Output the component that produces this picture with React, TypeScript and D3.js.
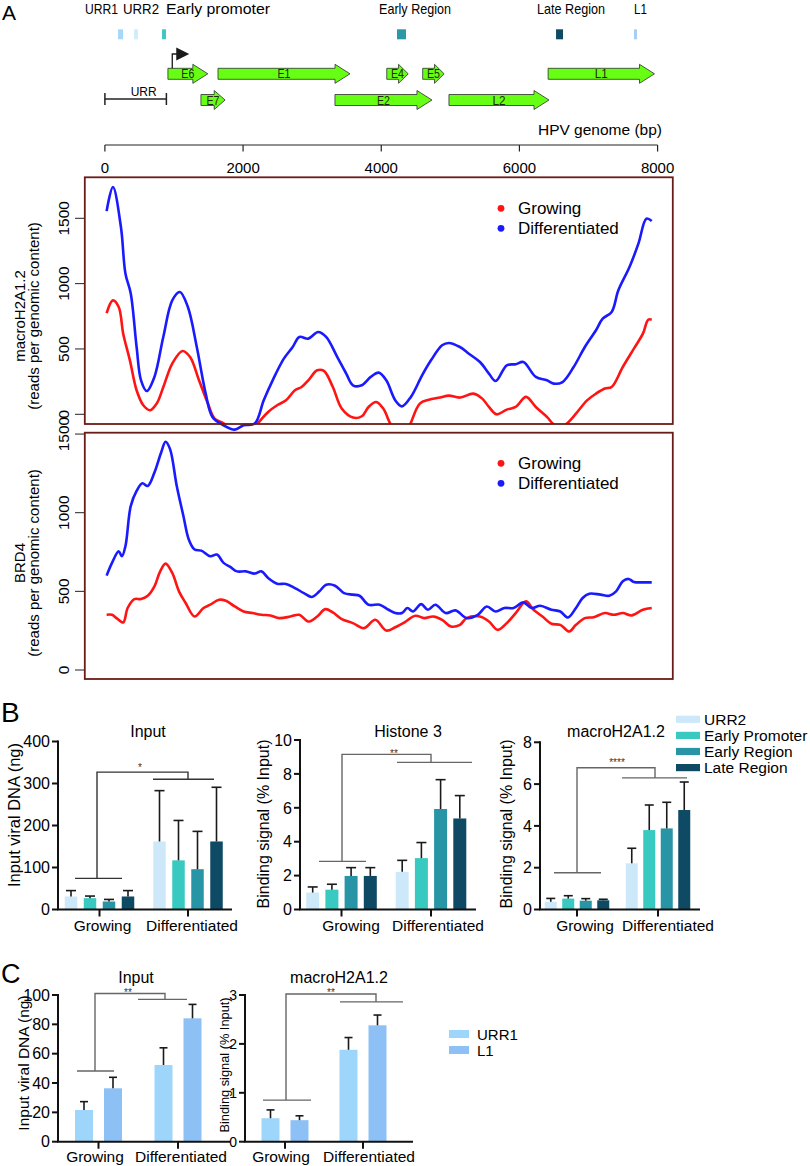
import React from "react";
import { scaleLinear, scaleBand, line, curveCatmullRom } from "d3";

const FONT = "'Liberation Sans', Arial, Helvetica, sans-serif";

// ---------- Panel A: genome map ----------
const geneNames = ["E6", "E1", "E4", "E5", "L1", "E7", "E2", "L2"];
const geneStart = [912, 1637, 4080, 4600, 6415, 1390, 3330, 4980];
const geneEnd = [1490, 3548, 4390, 4910, 7955, 1740, 4734, 6428];
const geneRow = [0, 0, 0, 0, 0, 1, 1, 1];

const regionNames = ["URR1", "URR2", "Early promoter", "Early Region", "Late Region", "L1"];
const regionStart = [190, 421, 827, 4228, 6530, 7658];
const regionEnd = [262, 479, 884, 4358, 6631, 7701];
const regionColors = ["#a6d9f9", "#d3ecf9", "#3cc8be", "#2a98a6", "#0f4a62", "#a4cdf7"];

const urrRange = [0, 890];
const promoterBp = 975;
const genomeTicks = [0, 2000, 4000, 6000, 8000];

// ---------- Panel A: coverage tracks ----------
const macroDiffBp = [25, 116, 232, 297, 374, 459, 523, 607, 717, 845, 975, 1085, 1201, 1330, 1459, 1556, 1718, 1879, 2008, 2169, 2299, 2428, 2590, 2718, 2815, 2944, 3086, 3202, 3364, 3493, 3590, 3719, 3848, 3964, 4073, 4203, 4300, 4429, 4591, 4720, 4881, 4978, 5139, 5268, 5429, 5559, 5656, 5817, 5946, 6057, 6237, 6398, 6495, 6624, 6785, 6947, 7108, 7205, 7335, 7432, 7593, 7722, 7838, 7915];
const macroDiff = [1555, 1739, 1433, 1078, 925, 515, 260, 178, 286, 592, 872, 936, 821, 515, 158, -20, -84, -117, -84, -71, 107, 260, 426, 515, 592, 579, 630, 592, 438, 311, 222, 222, 286, 319, 260, 107, 61, 133, 298, 413, 528, 546, 515, 464, 400, 311, 255, 375, 383, 400, 286, 260, 235, 247, 362, 515, 643, 732, 783, 949, 1127, 1306, 1497, 1479];

const macroGrowBp = [25, 116, 200, 265, 362, 459, 556, 653, 750, 846, 975, 1123, 1233, 1362, 1491, 1588, 1718, 1900, 2100, 2202, 2363, 2493, 2621, 2750, 2847, 2944, 3073, 3170, 3299, 3428, 3590, 3719, 3816, 3926, 4029, 4139, 4300, 4416, 4558, 4688, 4849, 4978, 5139, 5333, 5462, 5559, 5669, 5817, 5946, 6095, 6237, 6398, 6495, 6600, 6688, 6818, 6979, 7108, 7237, 7335, 7496, 7657, 7787, 7864, 7915];
const macroGrow = [775, 872, 821, 617, 413, 184, 69, 31, 82, 209, 388, 484, 438, 260, 82, -33, -70, -150, -150, -77, 18, 69, 107, 184, 209, 260, 337, 332, 209, 44, -25, -15, 56, 94, 44, -80, -200, -80, 82, 112, 128, 143, 128, 158, 120, 56, 0, 36, 56, 133, 56, -20, -77, -100, -71, 5, 107, 158, 197, 209, 362, 503, 617, 724, 724];

const brdDiffBp = [25, 103, 200, 246, 297, 374, 459, 542, 620, 717, 814, 878, 943, 1040, 1137, 1214, 1298, 1395, 1524, 1621, 1718, 1815, 1912, 2040, 2169, 2266, 2363, 2493, 2621, 2750, 2880, 2996, 3105, 3202, 3332, 3461, 3590, 3686, 3816, 3977, 4106, 4203, 4300, 4378, 4461, 4577, 4674, 4784, 4933, 5075, 5236, 5397, 5527, 5656, 5785, 5914, 6057, 6173, 6301, 6463, 6592, 6702, 6818, 6915, 7012, 7173, 7302, 7399, 7496, 7580, 7657, 7787, 7915];
const brdDiff = [600, 681, 755, 723, 787, 1042, 1138, 1187, 1170, 1255, 1383, 1451, 1404, 1170, 978, 830, 766, 759, 723, 734, 681, 655, 627, 627, 613, 627, 585, 549, 547, 521, 489, 464, 500, 542, 536, 489, 479, 472, 415, 415, 383, 362, 362, 394, 372, 419, 383, 415, 362, 379, 330, 351, 404, 372, 394, 394, 430, 394, 408, 383, 372, 334, 394, 458, 485, 479, 472, 500, 564, 579, 560, 557, 557];

const brdGrowBp = [25, 103, 168, 265, 329, 426, 523, 620, 717, 800, 878, 975, 1072, 1169, 1298, 1427, 1524, 1653, 1750, 1879, 2008, 2137, 2266, 2396, 2524, 2686, 2815, 2944, 3073, 3190, 3299, 3428, 3590, 3751, 3913, 4073, 4203, 4333, 4494, 4623, 4752, 4881, 5010, 5139, 5236, 5429, 5559, 5688, 5817, 5946, 6095, 6204, 6334, 6463, 6592, 6721, 6818, 6947, 7076, 7237, 7366, 7496, 7625, 7787, 7915];
const brdGrow = [351, 351, 330, 302, 394, 451, 451, 472, 532, 627, 676, 617, 500, 426, 340, 394, 415, 447, 440, 404, 372, 362, 351, 347, 330, 340, 351, 308, 340, 387, 366, 324, 298, 266, 319, 251, 272, 302, 345, 330, 340, 319, 276, 287, 330, 340, 308, 255, 298, 362, 436, 383, 340, 294, 287, 245, 287, 330, 336, 362, 351, 362, 347, 383, 394];

const trackTicks = [0, 500, 1000, 1500];
const legendNames = ["Growing", "Differentiated"];

// ---------- Panel B ----------
const groups = ["Growing", "Differentiated"];
const bSeries = ["URR2", "Early Promoter", "Early Region", "Late Region"];
const bColors = ["#cde9f9", "#38c9c0", "#2795a5", "#0e4a64"];

const inputGrowing = [31, 27, 19, 31];
const inputGrowingSem = [14, 5, 5, 14];
const inputDiff = [162, 117, 96, 162];
const inputDiffSem = [121, 95, 90, 129];

const h3Growing = [1.0, 1.17, 1.98, 1.98];
const h3GrowingSem = [0.33, 0.32, 0.49, 0.49];
const h3Diff = [2.22, 3.03, 5.93, 5.37];
const h3DiffSem = [0.68, 0.92, 1.73, 1.35];

const mhGrowing = [0.37, 0.52, 0.42, 0.44];
const mhGrowingSem = [0.16, 0.14, 0.1, 0.05];
const mhDiff = [2.21, 3.8, 3.88, 4.76];
const mhDiffSem = [0.72, 1.2, 1.25, 1.34];

// ---------- Panel C ----------
const cSeries = ["URR1", "L1"];
const cColors = ["#9ed6fb", "#8dc0f5"];
const cInputGrowing = [21.6, 36.4];
const cInputGrowingSem = [5.7, 7.5];
const cInputDiff = [52.3, 84.1];
const cInputDiffSem = [11.7, 9.5];
const cMhGrowing = [0.48, 0.44];
const cMhGrowingSem = [0.17, 0.09];
const cMhDiff = [1.88, 2.38];
const cMhDiffSem = [0.25, 0.21];

// genome coordinate scale shared by map and tracks
const genomeX = scaleLinear().domain([0, 8000]).range([104.9, 657.6]);

// region label placement (layout only)
const regionLabelX = [85, 123, 166, 379, 537, 634];
const regionLabelW = [33, 36, 104, 72, 68, 13];

function GenomeMap() {
  const x = genomeX;
  const rowY = [73.8, 100];
  const px = x(promoterBp);
  return (
    <g>
      <text x={2} y={20} fontSize={21}>A</text>
      {regionNames.map((n, i) => (
        <text key={n} x={regionLabelX[i]} y={13.5} fontSize={15} textLength={regionLabelW[i]} lengthAdjust="spacingAndGlyphs">
          {n}
        </text>
      ))}
      {regionNames.map((n, i) => (
        <rect key={"m" + n} x={x(regionStart[i])} y={29.3} width={x(regionEnd[i]) - x(regionStart[i])} height={10} fill={regionColors[i]} />
      ))}
      {geneNames.map((g, i) => {
        const x0 = x(geneStart[i]);
        const x1 = x(geneEnd[i]);
        const cy = rowY[geneRow[i]];
        const hl = Math.min(15, (x1 - x0) * 0.45);
        const d = `M${x0},${cy - 5.5}H${x1 - hl}V${cy - 9.5}L${x1},${cy}L${x1 - hl},${cy + 9.5}V${cy + 5.5}H${x0}Z`;
        return (
          <g key={g}>
            <path d={d} fill="#66ff14" stroke="#2e2e2e" strokeWidth={0.8} />
            <text x={(x0 + x1) / 2} y={cy + 4.5} textAnchor="middle" fontSize={13} fill="#1e2a10" textLength={13} lengthAdjust="spacingAndGlyphs">
              {g}
            </text>
          </g>
        );
      })}
      {/* URR span */}
      <line x1={x(urrRange[0])} x2={x(urrRange[1])} y1={99} y2={99} stroke="#222" strokeWidth={1.5} />
      <line x1={x(urrRange[0])} x2={x(urrRange[0])} y1={93} y2={105} stroke="#222" strokeWidth={1.5} />
      <line x1={x(urrRange[1])} x2={x(urrRange[1])} y1={93} y2={105} stroke="#222" strokeWidth={1.5} />
      <text x={(x(urrRange[0]) + x(urrRange[1])) / 2 + 8} y={95.5} textAnchor="middle" fontSize={13} textLength={26} lengthAdjust="spacingAndGlyphs">URR</text>
      {/* promoter arrow */}
      <path d={`M${px},${rowY[0] - 5.5}V54H${px + 5}`} fill="none" stroke="#1a1a1a" strokeWidth={1.3} />
      <path d={`M${px + 4},47.5L${px + 17},54L${px + 4},60.5Z`} fill="#1a1a1a" />
      {/* genome axis */}
      <text x={662} y={135} textAnchor="end" fontSize={15.5}>HPV genome (bp)</text>
      <line x1={x(0)} x2={x(8000)} y1={145} y2={145} stroke="#222" strokeWidth={1.2} />
      {genomeTicks.map((t) => (
        <g key={t}>
          <line x1={x(t)} x2={x(t)} y1={145} y2={151.5} stroke="#222" strokeWidth={1.2} />
          <text x={x(t)} y={172.5} textAnchor="middle" fontSize={15}>{t}</text>
        </g>
      ))}
    </g>
  );
}

function TrackPanel(p: {
  top: number;
  bottom: number;
  y: any;
  diffBp: number[];
  diff: number[];
  growBp: number[];
  grow: number[];
  clipGrow: boolean;
  id: string;
  label: string;
  labelCenter: number;
  legendY: number;
}) {
  const boxL = 84.8;
  const boxR = 672.8;
  const mk = (bp: number[], v: number[]) =>
    line<number>()
      .x((_, i) => genomeX(bp[i]))
      .y((d) => p.y(d))
      .curve(curveCatmullRom.alpha(0.5))(v) || "";
  return (
    <g>
      <defs>
        <clipPath id={p.id}>
          <rect x={boxL} y={p.top} width={boxR - boxL} height={p.bottom - p.top} />
        </clipPath>
      </defs>
      {trackTicks.map((t) => (
        <g key={t}>
          <line x1={75} x2={boxL} y1={p.y(t)} y2={p.y(t)} stroke="#222" strokeWidth={1} />
          <text transform={`translate(69,${p.y(t)}) rotate(-90)`} textAnchor="middle" fontSize={15.5}>{t}</text>
        </g>
      ))}
      <text transform={`translate(24.5,${p.labelCenter}) rotate(-90)`} textAnchor="middle" fontSize={15}>{p.label}</text>
      <text transform={`translate(38.5,${p.labelCenter}) rotate(-90)`} textAnchor="middle" fontSize={15}>(reads per genomic content)</text>
      <path d={mk(p.growBp, p.grow)} fill="none" stroke="#ff1414" strokeWidth={2.6} clipPath={p.clipGrow ? `url(#${p.id})` : undefined} />
      <path d={mk(p.diffBp, p.diff)} fill="none" stroke="#1a1aff" strokeWidth={2.6} />
      <rect x={boxL} y={p.top} width={boxR - boxL} height={p.bottom - p.top} fill="none" stroke="#6a1d18" strokeWidth={1.8} />
      {legendNames.map((n, i) => (
        <g key={n}>
          <circle cx={501} cy={p.legendY + i * 20} r={3.4} fill={i === 0 ? "#ff1414" : "#1a1aff"} />
          <text x={518} y={p.legendY + i * 20 + 6} fontSize={17}>{n}</text>
        </g>
      ))}
    </g>
  );
}

type Bracket = { left: number[]; top: number; right: number[] };

function BarChart(p: {
  axisX: number;
  axisEnd: number;
  y: any;
  ticks: number[];
  tickSize: number;
  centers: number[];
  step: number;
  bw: number;
  series: string[];
  colors: string[];
  means: number[][];
  sems: number[][];
  capW: number;
  title: string;
  titleX: number;
  titleY: number;
  yLabel: string;
  yLabelX: number;
  yLabelY: number;
  yLabelSize: number;
  catX: number[];
  catY: number;
  bracket: Bracket;
  bracketColor: string;
  stars: string;
  starX: number;
  starY: number;
}) {
  const pi = (p.step - p.bw) / p.step;
  const half = (p.step * (p.series.length - pi)) / 2;
  const inner = scaleBand<string>().domain(p.series).range([-half, half]).paddingInner(pi);
  const y0 = p.y(0);
  const yTop = p.y(p.ticks[p.ticks.length - 1]);
  const b = p.bracket;
  const bc = p.bracketColor;
  return (
    <g>
      <text x={p.titleX} y={p.titleY} textAnchor="middle" fontSize={16}>{p.title}</text>
      <text transform={`translate(${p.yLabelX},${p.yLabelY}) rotate(-90)`} textAnchor="middle" fontSize={p.yLabelSize}>{p.yLabel}</text>
      {p.centers.map((c, g) =>
        p.series.map((s, i) => {
          const bx = c + (inner(s) as number);
          const cx = bx + inner.bandwidth() / 2;
          const top = p.y(p.means[g][i]);
          const et = p.y(p.means[g][i] + p.sems[g][i]);
          return (
            <g key={g + s}>
              <rect x={bx} y={top} width={inner.bandwidth()} height={y0 - top} fill={p.colors[i]} />
              <line x1={cx} x2={cx} y1={top} y2={et} stroke="#1a1a1a" strokeWidth={1.6} />
              <line x1={cx - p.capW / 2} x2={cx + p.capW / 2} y1={et} y2={et} stroke="#1a1a1a" strokeWidth={1.6} />
            </g>
          );
        })
      )}
      {/* axes */}
      <line x1={p.axisX} x2={p.axisX} y1={y0} y2={yTop - 1} stroke="#111" strokeWidth={2} />
      <line x1={p.axisX - 1} x2={p.axisEnd} y1={y0} y2={y0} stroke="#111" strokeWidth={2} />
      {p.ticks.map((t) => (
        <g key={t}>
          <line x1={p.axisX - 6} x2={p.axisX} y1={p.y(t)} y2={p.y(t)} stroke="#111" strokeWidth={2} />
          <text x={p.axisX - 8} y={p.y(t) + p.tickSize * 0.36} textAnchor="end" fontSize={p.tickSize}>{t}</text>
        </g>
      ))}
      {p.centers.map((c, g) => (
        <g key={"cat" + g}>
          <line x1={c} x2={c} y1={y0} y2={y0 + 7} stroke="#111" strokeWidth={2} />
          <text x={p.catX[g]} y={p.catY} textAnchor="middle" fontSize={15.5}>{groups[g]}</text>
        </g>
      ))}
      {/* significance bracket */}
      <path
        d={`M${b.left[0]},${p.y(b.left[3])}H${b.left[1]}M${b.left[2]},${p.y(b.left[3])}V${p.y(b.top)}H${b.right[2]}V${p.y(b.right[3])}M${b.right[0]},${p.y(b.right[3])}H${b.right[1]}`}
        fill="none"
        stroke={bc}
        strokeWidth={1.4}
      />
      <text x={p.starX} y={p.starY} textAnchor="middle" fontSize={10} fill="#333">{p.stars}</text>
    </g>
  );
}

export default function App() {
  const topY = scaleLinear().domain([0, 1500]).range([414.3, 218.3]);
  const botY = scaleLinear().domain([0, 1000]).range([670, 512.7]);

  const b1Y = scaleLinear().domain([0, 400]).range([909.5, 741.5]);
  const b2Y = scaleLinear().domain([0, 10]).range([909.5, 740]);
  const b3Y = scaleLinear().domain([0, 8]).range([909.5, 742.3]);
  const c1Y = scaleLinear().domain([0, 100]).range([1141.7, 995]);
  const c2Y = scaleLinear().domain([0, 3]).range([1141.7, 995]);

  return (
    <div style={{ position: "absolute", left: 0, top: 0 }}>
      <svg width={810} height={1166} style={{ display: "block", background: "#fff" }} fontFamily={FONT}>
        <GenomeMap />
        <TrackPanel top={177.3} bottom={424} y={topY} diffBp={macroDiffBp} diff={macroDiff} growBp={macroGrowBp} grow={macroGrow} clipGrow={true} id="clipTop" label="macroH2A1.2" labelCenter={316} legendY={208.3} />
        <TrackPanel top={432.7} bottom={679} y={botY} diffBp={brdDiffBp} diff={brdDiff} growBp={brdGrowBp} grow={brdGrow} clipGrow={false} id="clipBot" label="BRD4" labelCenter={563} legendY={463.3} />

        <text x={1} y={722} fontSize={28}>B</text>
        <BarChart
          axisX={58} axisEnd={232} y={b1Y} ticks={[0, 100, 200, 300, 400]} tickSize={16}
          centers={[99.5, 188]} step={19} bw={12.5} series={bSeries} colors={bColors}
          means={[inputGrowing, inputDiff]} sems={[inputGrowingSem, inputDiffSem]} capW={10}
          title="Input" titleX={148} titleY={737} yLabel="Input viral DNA (ng)" yLabelX={20} yLabelY={815} yLabelSize={16.5}
          catX={[102.5, 192]} catY={930.5}
          bracket={{ left: [75, 122, 97, 74], top: 327, right: [153, 214, 188, 310] }} bracketColor="#333"
          stars="*" starX={140} starY={771}
        />
        <BarChart
          axisX={300} axisEnd={476} y={b2Y} ticks={[0, 2, 4, 6, 8, 10]} tickSize={16}
          centers={[341.5, 431]} step={19.2} bw={13} series={bSeries} colors={bColors}
          means={[h3Growing, h3Diff]} sems={[h3GrowingSem, h3DiffSem]} capW={10}
          title="Histone 3" titleX={408} titleY={737} yLabel="Binding signal (% Input)" yLabelX={269} yLabelY={824} yLabelSize={16}
          catX={[351, 438]} catY={930.5}
          bracket={{ left: [319, 366, 342, 2.84], top: 9.15, right: [397, 472, 431, 8.68] }} bracketColor="#666"
          stars="**" starX={394} starY={757}
        />
        <BarChart
          axisX={540} axisEnd={700} y={b3Y} ticks={[0, 2, 4, 6, 8]} tickSize={16}
          centers={[577, 658]} step={17.5} bw={12} series={bSeries} colors={bColors}
          means={[mhGrowing, mhDiff]} sems={[mhGrowingSem, mhDiffSem]} capW={9}
          title="macroH2A1.2" titleX={616} titleY={737} yLabel="Binding signal (% Input)" yLabelX={512} yLabelY={824} yLabelSize={16}
          catX={[585, 668]} catY={930.5}
          bracket={{ left: [554, 601, 577, 1.76], top: 6.78, right: [622, 687, 655, 6.3] }} bracketColor="#666"
          stars="****" starX={617} starY={766}
        />
        {bSeries.map((s, i) => (
          <g key={"lb" + s}>
            <rect x={676} y={719.3 + i * 16.1 - 3.6} width={24} height={7.2} fill={bColors[i]} />
            <text x={704} y={719.3 + i * 16.1 + 5.5} fontSize={15.5}>{s}</text>
          </g>
        ))}

        <text x={1} y={983} fontSize={27}>C</text>
        <BarChart
          axisX={58} axisEnd={230} y={c1Y} ticks={[0, 20, 40, 60, 80, 100]} tickSize={16}
          centers={[98.5, 178]} step={29} bw={18} series={cSeries} colors={cColors}
          means={[cInputGrowing, cInputDiff]} sems={[cInputGrowingSem, cInputDiffSem]} capW={8}
          title="Input" titleX={136} titleY={983} yLabel="Input viral DNA (ng)" yLabelX={29} yLabelY={1063} yLabelSize={15.5}
          catX={[95, 181]} catY={1161.5}
          bracket={{ left: [77, 114, 95, 48.2], top: 101, right: [138, 187, 165, 97] }} bracketColor="#666"
          stars="**" starX={128} starY={996}
        />
        <BarChart
          axisX={245} axisEnd={413} y={c2Y} ticks={[0, 1, 2, 3]} tickSize={14}
          centers={[285, 363]} step={29} bw={18} series={cSeries} colors={cColors}
          means={[cMhGrowing, cMhDiff]} sems={[cMhGrowingSem, cMhDiffSem]} capW={8}
          title="macroH2A1.2" titleX={339} titleY={983} yLabel="Binding signal (% Input)" yLabelX={229} yLabelY={1065} yLabelSize={12.8}
          catX={[281, 369]} catY={1161.5}
          bracket={{ left: [263, 311, 286, 0.85], top: 3.02, right: [340, 403, 376, 2.86] }} bracketColor="#666"
          stars="**" starX={331} starY={996}
        />
        {cSeries.map((s, i) => (
          <g key={"lc" + s}>
            <rect x={449} y={1034 + i * 16 - 4} width={20} height={8} fill={cColors[i]} />
            <text x={477} y={1034 + i * 16 + 5.5} fontSize={15}>{s}</text>
          </g>
        ))}
      </svg>
    </div>
  );
}
